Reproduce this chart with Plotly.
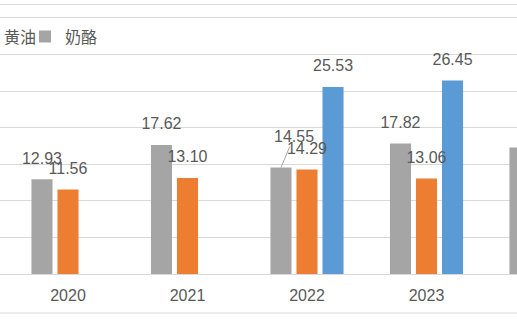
import plotly.graph_objects as go

# ---- data ----
years = [2020, 2021, 2022, 2023, 2024]
year_labels = ["2020", "2021", "2022", "2023", "2024"]
cheese = [12.93, 17.62, 14.55, 17.82, 17.28]   # grey  (奶酪)
butter = [11.56, 13.10, 14.29, 13.06, None]    # orange (黄油)
cream = [None, None, 25.53, 26.45, None]       # blue

series = [
    ("奶酪", cheese, "#A5A5A5"),
    ("黄油", butter, "#ED7D31"),
    ("稀奶油", cream, "#5B9BD5"),
]

# label drawn with a leader line (offset in px)
LEADER = {("奶酪", 2022): (13, -31)}

W, H = 517, 320
BARGAP = 0.347
BARGROUPGAP = 0.19
FONT = "Liberation Sans, Noto Sans CJK SC, sans-serif"
TXT = "#595959"
GRID = "#D9D9D9"
FS = 16
ENTRY_W = 16

fig = go.Figure()
for i, (name, vals, color) in enumerate(series):
    fig.add_trace(go.Bar(x=years, y=vals, name=name, marker_color=color,
                         marker_line_width=0, hoverinfo="skip",
                         legendwidth=40 if i == 0 else None))

n = len(series)
slot = (1 - BARGAP) / n
annotations = []
for i, (name, vals, color) in enumerate(series):
    xs, ys, txt = [], [], []
    for yr, v in zip(years, vals):
        if v is None:
            continue
        x = yr + (i - (n - 1) / 2) * slot
        if (name, yr) in LEADER:
            dx, dy = LEADER[(name, yr)]
            annotations.append(dict(x=x, y=v, xref="x", yref="y", text=f"{v:.2f}",
                                    showarrow=True, ax=dx, ay=dy, arrowhead=0,
                                    arrowwidth=1, arrowcolor="#A6A6A6", standoff=0,
                                    font=dict(family=FONT, size=FS, color=TXT)))
            continue
        xs.append(x)
        ys.append(v)
        txt.append(f"{v:.2f}")
    fig.add_trace(go.Scatter(x=xs, y=ys, text=txt, mode="markers+text",
                             textposition="top center",
                             marker=dict(size=17, opacity=0),
                             textfont=dict(family=FONT, size=FS, color=TXT),
                             cliponaxis=False, showlegend=False, hoverinfo="skip"))

x0 = years[0] - 68 / 119.5
x1 = x0 + W / 119.5

fig.update_layout(
    width=W, height=H,
    margin=dict(l=0, r=0, t=5, b=46, autoexpand=False),
    paper_bgcolor="white", plot_bgcolor="white",
    barmode="group", bargap=BARGAP, bargroupgap=BARGROUPGAP,
    font=dict(family=FONT, size=FS, color=TXT),
    showlegend=True,
    legend=dict(orientation="h", traceorder="reversed",
                entrywidth=ENTRY_W, entrywidthmode="pixels",
                x=-(40 + ENTRY_W + 5 + 36) / W, xanchor="left",
                y=(274 - 36.5) / 269, yanchor="middle",
                font=dict(family=FONT, size=16, color=TXT),
                bgcolor="rgba(0,0,0,0)", borderwidth=0),
    xaxis=dict(range=[x0, x1], tickvals=years, ticktext=year_labels,
               showgrid=False, zeroline=False, showline=True, linecolor=GRID,
               linewidth=1, mirror=True, ticks="", ticklabelstandoff=7,
               tickfont=dict(family=FONT, size=FS, color=TXT), fixedrange=True),
    yaxis=dict(range=[0, 269 / 7.32], dtick=5, showgrid=True, gridcolor=GRID,
               gridwidth=1, zeroline=False, showticklabels=False, showline=False,
               fixedrange=True),
    annotations=annotations,
    shapes=[dict(type="line", xref="paper", yref="paper", x0=0, x1=1,
                 y0=-(313 - 274) / 269, y1=-(313 - 274) / 269,
                 line=dict(color=GRID, width=1))],
)

fig.write_html("out.html")
